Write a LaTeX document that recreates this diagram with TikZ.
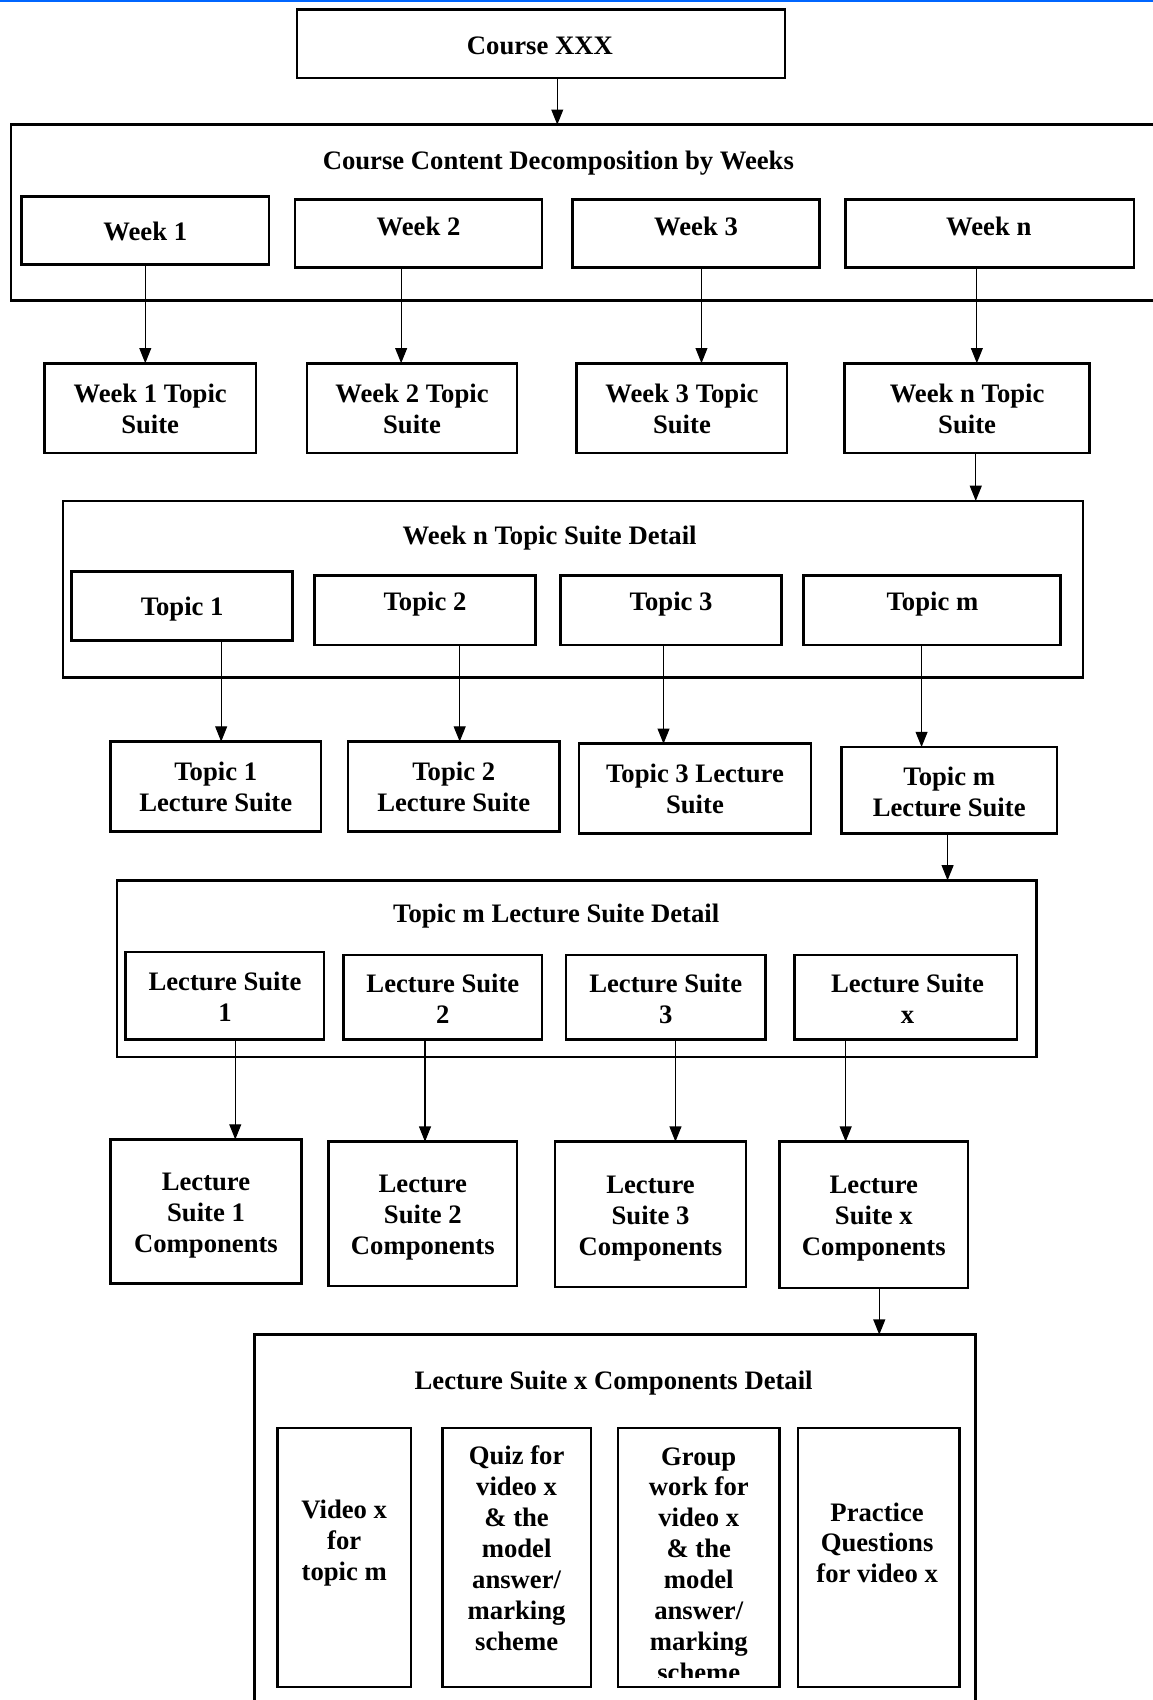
\documentclass[tikz,border=0pt]{standalone}
\usepackage{fontspec}
\setmainfont{Liberation Serif}
\usetikzlibrary{arrows.meta}
\definecolor{topblue}{RGB}{0,102,255}
\tikzset{
  bx/.style={draw=black, line width=2.4pt, inner sep=0pt, outer sep=0pt, fill=none},
  txt/.style={align=center, inner sep=0pt, font=\bfseries\fontsize{24.6}{28.5}\selectfont},
  arr/.style={draw=black, line width=1pt, -{Triangle[length=14pt,width=11pt]}},
}
\newcommand\boxat[5]{%
  \node[bx, minimum width={(#4)-(#2)}, minimum height={(#5)-(#3)}] (#1) at ({((#2)+(#4))/2},{((#3)+(#5))/2}) {};}
\newcommand\conn[3]{\draw[arr] (#1.south -| #3,0) -- (#2.north -| #3,0);}
\begin{document}
\begin{tikzpicture}[x=1pt,y=-1pt]
\useasboundingbox (0,0) rectangle (1063,1568);
\fill[white] (0,0) rectangle (1063,1568);
\fill[topblue] (0,0) rectangle (1063,1.6);

% Course
\boxat{course}{274}{9}{724}{72}
\node[txt] (course-t) at (498,42) {Course XXX};

% Weeks container
\boxat{weeks}{10}{115}{1075}{277}
\node[txt] (weeks-t) at (515,150) {Course Content Decomposition by Weeks};
\boxat{w1}{20}{181}{248}{244}
\node[txt] (w1-t) at (134,213.5) {Week 1};
\boxat{w2}{272}{184}{500}{247}
\node[txt] (w2-t) at (386,208.5) {Week 2};
\boxat{w3}{528}{184}{756}{247}
\node[txt] (w3-t) at (642,208.5) {Week 3};
\boxat{wn}{780}{184}{1046}{247}
\node[txt] (wn-t) at (912,208.5) {Week n};

% Week topic suites
\boxat{s1}{41}{335}{236}{418}
\node[txt] (s1-t) at (138.5,377) {Week 1 Topic\\Suite};
\boxat{s2}{283}{335}{477}{418}
\node[txt] (s2-t) at (380,377) {Week 2 Topic\\Suite};
\boxat{s3}{532}{335}{726}{418}
\node[txt] (s3-t) at (629,377) {Week 3 Topic\\Suite};
\boxat{sn}{779}{335}{1005}{418}
\node[txt] (sn-t) at (892,377) {Week n Topic\\Suite};

% Topic container
\boxat{topics}{58}{462}{999}{625}
\node[txt] (topics-t) at (507,496) {Week n Topic Suite Detail};
\boxat{t1}{66}{527}{270}{591}
\node[txt] (t1-t) at (168,562) {Topic 1};
\boxat{t2}{290}{531}{494}{595}
\node[txt] (t2-t) at (392,557) {Topic 2};
\boxat{t3}{517}{531}{721}{595}
\node[txt] (t3-t) at (619,557) {Topic 3};
\boxat{tm}{741}{531}{978}{595}
\node[txt] (tm-t) at (860,557) {Topic m};

% Topic lecture suites
\boxat{l1}{102}{684}{296}{767}
\node[txt] (l1-t) at (199,726) {Topic 1\\Lecture Suite};
\boxat{l2}{321}{684}{516}{767}
\node[txt] (l2-t) at (418.5,726) {Topic 2\\Lecture Suite};
\boxat{l3}{534}{686}{748}{769}
\node[txt] (l3-t) at (641,728) {Topic 3 Lecture\\Suite};
\boxat{lm}{776}{689}{975}{769}
\node[txt] (lm-t) at (875.5,730) {Topic m\\Lecture Suite};

% Lecture suite container
\boxat{lects}{108}{812}{956}{975}
\node[txt] (lects-t) at (513,845) {Topic m Lecture Suite Detail};
\boxat{ls1}{116}{878}{299}{959}
\node[txt] (ls1-t) at (207.5,919) {Lecture Suite\\1};
\boxat{ls2}{317}{881}{500}{959}
\node[txt] (ls2-t) at (408.5,921) {Lecture Suite\\2};
\boxat{ls3}{522}{881}{706}{959}
\node[txt] (ls3-t) at (614,921) {Lecture Suite\\3};
\boxat{lsx}{733}{881}{938}{959}
\node[txt] (lsx-t) at (837,921) {Lecture Suite\\x};

% Components
\boxat{c1}{102}{1051}{278}{1184}
\node[txt] (c1-t) at (190,1121) {Lecture\\Suite 1\\Components};
\boxat{c2}{303}{1053}{477}{1186}
\node[txt] (c2-t) at (390,1123) {Lecture\\Suite 2\\Components};
\boxat{c3}{512}{1053}{688}{1187}
\node[txt] (c3-t) at (600,1124) {Lecture\\Suite 3\\Components};
\boxat{cx}{719}{1053}{893}{1188}
\node[txt] (cx-t) at (806,1124) {Lecture\\Suite x\\Components};

% Components detail container
\boxat{comps}{235}{1231}{900}{1590}
\node[txt] (comps-t) at (566,1276) {Lecture Suite x Components Detail};
\boxat{v1}{256}{1317}{379}{1556}
\node[txt] (v1-t) at (317.5,1423) {Video x\\for\\topic m};
\boxat{v2}{408}{1317}{545}{1556}
\node[txt] (v2-t) at (476.5,1428) {Quiz for\\video x\\\& the\\model\\answer/\\marking\\scheme};
\boxat{v3}{570}{1317}{719}{1556}
\begin{scope}
  \clip (570,1317) rectangle (719,1547);
  \node[txt] (v3-t) at (644.5,1443) {Group\\work for\\video x\\\& the\\model\\answer/\\marking\\scheme};
\end{scope}
\boxat{v4}{736}{1317}{885}{1556}
\node[txt] (v4-t) at (809,1423) {Practice\\Questions\\for video x};

% Connectors
\conn{course}{weeks}{514}
\conn{w1}{s1}{134}
\conn{w2}{s2}{370}
\conn{w3}{s3}{647}
\conn{wn}{sn}{901}
\conn{sn}{topics}{900}
\conn{t1}{l1}{204}
\conn{t2}{l2}{424}
\conn{t3}{l3}{612}
\conn{tm}{lm}{850}
\conn{lm}{lects}{874}
\conn{ls1}{c1}{217}
\conn{ls2}{c2}{392}
\conn{ls3}{c3}{623}
\conn{lsx}{cx}{780}
\conn{cx}{comps}{811}
\end{tikzpicture}
\end{document}
